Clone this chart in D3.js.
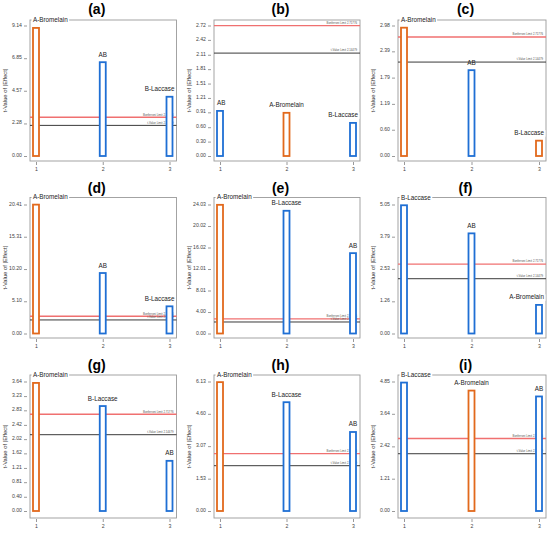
<!DOCTYPE html>
<html>
<head>
<meta charset="utf-8">
<script src="https://cdn.jsdelivr.net/npm/d3@7"></script>
<style>
  body { margin: 0; background: #fff; }
  svg { display: block; font-family: Arial, "Liberation Sans", sans-serif; }
</style>
</head>
<body>
<div id="chart"></div>
<script>
// panel titles, one per cell of the 3x3 grid
var panelTitles = ["(a)", "(b)", "(c)", "(d)", "(e)", "(f)", "(g)", "(h)", "(i)"];

// terms in pareto order for each panel
var barTerms = [
    ["A-Bromelain", "AB", "B-Laccase"],
    ["AB", "A-Bromelain", "B-Laccase"],
    ["A-Bromelain", "AB", "B-Laccase"],
    ["A-Bromelain", "AB", "B-Laccase"],
    ["A-Bromelain", "B-Laccase", "AB"],
    ["B-Laccase", "AB", "A-Bromelain"],
    ["A-Bromelain", "B-Laccase", "AB"],
    ["A-Bromelain", "B-Laccase", "AB"],
    ["B-Laccase", "A-Bromelain", "AB"]
];

// t-value of |effect| for each bar
var barValues = [
    [8.97, 6.57, 4.15],
    [0.94, 0.90, 0.69],
    [2.93, 1.96, 0.35],
    [20.39, 9.57, 4.30],
    [23.97, 22.86, 14.97],
    [5.02, 3.92, 1.12],
    [3.60, 2.95, 1.41],
    [6.10, 5.15, 3.74],
    [4.81, 4.51, 4.29]
];

// sign of each effect (+ positive -> orange, - negative -> blue)
var effectSigns = [
    ["+", "-", "-"],
    ["-", "+", "-"],
    ["+", "-", "+"],
    ["+", "-", "-"],
    ["+", "-", "-"],
    ["-", "-", "-"],
    ["+", "-", "-"],
    ["+", "-", "-"],
    ["-", "+", "-"]
];

var yTickLabels = [
    ["0.00", "2.28", "4.57", "6.85", "9.14"],
    ["0.00", "0.30", "0.60", "0.91", "1.21", "1.51", "1.81", "2.11", "2.42", "2.72"],
    ["0.00", "0.60", "1.19", "1.79", "2.39", "2.98"],
    ["0.00", "5.10", "10.20", "15.31", "20.41"],
    ["0.00", "4.00", "8.01", "12.01", "16.02", "20.02", "24.03"],
    ["0.00", "1.26", "2.53", "3.79", "5.05"],
    ["0.00", "0.40", "0.81", "1.21", "1.62", "2.02", "2.42", "2.83", "3.23", "3.64"],
    ["0.00", "1.53", "3.07", "4.60", "6.13"],
    ["0.00", "1.21", "2.42", "3.64", "4.85"]
];

var xTickLabels = ["1", "2", "3"];

var bonferroniLimit = 2.71776;
var tValueLimit = 2.14479;

// grid layout (pixels) -- per column and per row
var colLeft = [30, 214, 398], colRight = [176.5, 360, 546];
var rowTop = [20, 197.5, 375], rowBottom = [161, 338, 518];
var rowZero = [156, 333.5, 511], rowMax = [25.5, 204.5, 381.5];
var titleBase = [13.5, 193, 369.5];

var svg = d3.select("#chart")
    .append("svg")
    .attr("width", 550)
    .attr("height", 533);

for (var p = 0; p < 9; p++) {
    drawPanel(p);
}

function drawPanel(p) {
    var col = p % 3, row = Math.floor(p / 3);
    var left = colLeft[col], right = colRight[col];
    var top = rowTop[row], bottom = rowBottom[row];
    var ticks = yTickLabels[p];
    var yMax = parseFloat(ticks[ticks.length - 1]);

    var x = d3.scalePoint().domain(xTickLabels).range([left + 6, right - 7]);
    var y = d3.scaleLinear().domain([0, yMax]).range([rowZero[row], rowMax[row]]);

    var g = svg.append("g");

    var data = barTerms[p].map(function(t, i) {
        return { term: t, value: barValues[p][i], sign: effectSigns[p][i], pos: xTickLabels[i] };
    });

    // title
    g.append("text")
        .attr("x", (left + right) / 2 - 6.5)
        .attr("y", titleBase[row])
        .attr("text-anchor", "middle")
        .style("font-size", "14px")
        .style("font-weight", "bold")
        .text(panelTitles[p]);

    // plot frame
    g.append("rect")
        .attr("x", left)
        .attr("y", top)
        .attr("width", right - left)
        .attr("height", bottom - top)
        .attr("fill", "none")
        .attr("stroke", "#9a9a9a")
        .attr("stroke-width", 0.9);

    // y axis
    var yAxis = g.append("g")
        .attr("transform", "translate(" + (left - 3) + ",0)")
        .call(d3.axisLeft(y)
            .tickValues(ticks.map(function(s) { return parseFloat(s); }))
            .tickFormat(function(d, i) { return ticks[i]; })
            .tickSize(3)
            .tickPadding(2));
    yAxis.select(".domain").remove();
    yAxis.selectAll("line").attr("stroke", "#555").attr("stroke-width", 0.6);
    yAxis.selectAll("text")
        .attr("dy", "0.1em")
        .style("font-size", "5.2px")
        .style("font-family", "Arial, 'Liberation Sans', sans-serif")
        .attr("fill", "#444");

    // x axis
    var xAxis = g.append("g")
        .attr("transform", "translate(0," + (bottom + 1) + ")")
        .call(d3.axisBottom(x).tickSize(3).tickPadding(2.5));
    xAxis.select(".domain").remove();
    xAxis.selectAll("line").attr("stroke", "#555").attr("stroke-width", 0.6);
    xAxis.selectAll("text")
        .style("font-size", "5.2px")
        .style("font-family", "Arial, 'Liberation Sans', sans-serif")
        .attr("fill", "#444");

    // y axis title
    g.append("text")
        .attr("transform", "translate(" + (left - 23) + "," + ((top + bottom) / 2) + ") rotate(-90)")
        .attr("text-anchor", "middle")
        .style("font-size", "5.8px")
        .attr("fill", "#333")
        .text("t-Value of |Effect|");

    // bar label placement, clamped inside the frame
    var labelFont = 6.3;
    data.forEach(function(d) {
        var w = measure(d.term, labelFont);
        var cx = x(d.pos) - w / 2;
        if (cx < left + 3) cx = left + 3;
        if (cx + w > right - 2) cx = right - 2 - w;
        d.lx = cx;
        d.lw = w;
        d.ly = y(d.value) - 5.5;
    });

    // white behind labels (breaks the frame top line)
    g.selectAll(".lblbg")
        .data(data)
        .enter().append("rect")
        .attr("x", function(d) { return d.lx - 1.5; })
        .attr("y", function(d) { return d.ly - 5; })
        .attr("width", function(d) { return d.lw + 3; })
        .attr("height", 6.5)
        .attr("fill", "#fff");

    // limit lines
    var limits = [
        { v: bonferroniLimit, color: "#f07070", w: 1.4, label: "Bonferroni Limit 2.71776" },
        { v: tValueLimit, color: "#3a3a3a", w: 1, label: "t-Value Limit 2.14479" }
    ];
    g.selectAll(".limit")
        .data(limits.filter(function(l) { return l.v <= yMax + 0.01; }))
        .enter().append("line")
        .attr("x1", left)
        .attr("x2", right)
        .attr("y1", function(d) { return y(d.v); })
        .attr("y2", function(d) { return y(d.v); })
        .attr("stroke", function(d) { return d.color; })
        .attr("stroke-width", function(d) { return d.w; });

    g.selectAll(".limitlbl")
        .data(limits.filter(function(l) { return l.v <= yMax + 0.01; }))
        .enter().append("text")
        .attr("x", right - 3)
        .attr("y", function(d) { return y(d.v) - 1.6; })
        .attr("text-anchor", "end")
        .style("font-size", "2.8px")
        .attr("fill", "#555")
        .text(function(d) { return d.label; });

    // bars
    g.selectAll(".bar")
        .data(data)
        .enter().append("rect")
        .attr("x", function(d) { return x(d.pos) - 3; })
        .attr("y", function(d) { return y(d.value); })
        .attr("width", 6)
        .attr("height", function(d) { return y(0) - y(d.value); })
        .attr("fill", "#fff")
        .attr("stroke", function(d) {
            return d.sign == "+" ? "#e2691c" : "#1f6fd4";
        })
        .attr("stroke-width", 1.8);

    // bar labels
    g.selectAll(".lbl")
        .data(data)
        .enter().append("text")
        .attr("x", function(d) { return d.lx; })
        .attr("y", function(d) { return d.ly; })
        .style("font-size", labelFont + "px")
        .attr("fill", "#222")
        .text(function(d) { return d.term; });
}

function measure(str, size) {
    var t = svg.append("text").style("font-size", size + "px").text(str);
    var w = t.node().getComputedTextLength();
    t.remove();
    return w;
}
</script>
</body>
</html>
